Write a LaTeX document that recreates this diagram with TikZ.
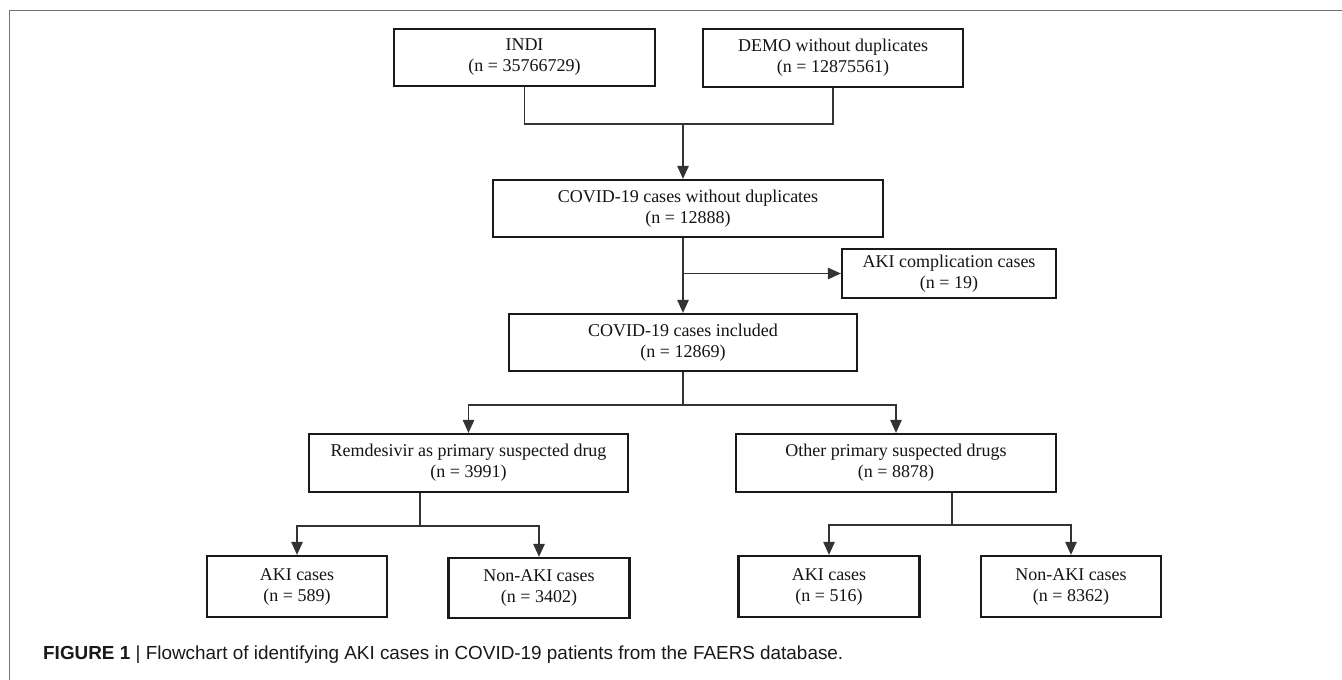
\documentclass[tikz,border=0pt]{standalone}
\usepackage{fontspec}
\setmainfont{Liberation Serif}
\newfontfamily\capfont{Liberation Sans}
\usetikzlibrary{arrows.meta,calc}
\begin{document}
\begin{tikzpicture}[x=1pt,y=-1pt,
  box/.style={draw=black!90, line width=2.3pt, rectangle, align=center, inner sep=0pt,
    font=\fontsize{18}{21}\selectfont, text=black!92},
  conn/.style={draw=black!80, line width=1.2pt},
  arr/.style={conn, -{Triangle[length=13pt,width=11.5pt]}}]
\useasboundingbox (0,0) rectangle (1342,680);
\fill[white] (0,0) rectangle (1342,680);
\draw[black!55, line width=1.6pt] (9.5,680) -- (9.5,10.5) -- (1342,10.5);

\node[box, minimum width=261, minimum height=57] (indi) at (524.5,57.5) {INDI\\(n = 35766729)};
\node[box, minimum width=260, minimum height=58] (demo) at (833,58) {DEMO without duplicates\\(n = 12875561)};
\node[box, minimum width=390, minimum height=57] (covid) at (688,208.5) {COVID-19 cases without duplicates\\(n = 12888)};
\node[box, minimum width=214, minimum height=49] (akic) at (949,273.5) {AKI complication cases\\(n = 19)};
\node[box, minimum width=348, minimum height=57] (incl) at (683,342.5) {COVID-19 cases included\\(n = 12869)};
\node[box, minimum width=319, minimum height=58] (rem) at (468.5,463) {Remdesivir as primary suspected drug\\(n = 3991)};
\node[box, minimum width=320, minimum height=58] (oth) at (896,463) {Other primary suspected drugs\\(n = 8878)};
\node[box, minimum width=180, minimum height=61] (aki1) at (297,586.5) {AKI cases\\(n = 589)};
\node[box, minimum width=181, minimum height=60] (non1) at (539,588) {Non-AKI cases\\(n = 3402)};
\node[box, minimum width=181, minimum height=61] (aki2) at (829,586.5) {AKI cases\\(n = 516)};
\node[box, minimum width=180, minimum height=61] (non2) at (1071,586.5) {Non-AKI cases\\(n = 8362)};

\coordinate (j1) at (683,124);
\coordinate (j2) at (683,405);
\coordinate (j3) at (420,526);
\coordinate (j4) at (952,525);

\draw[conn] (indi.south) -- (indi.south |- j1) -- (demo.south |- j1) -- (demo.south);
\draw[arr] (j1) -- (j1 |- covid.north);
\draw[arr] (covid.south -| j1) -- (j1 |- incl.north);
\draw[arr] (j1 |- akic.west) -- (akic.west);
\draw[conn] (incl.south) -- (j2);
\draw[arr] (j2) -| (rem.north);
\draw[arr] (j2) -| (oth.north);
\draw[conn] (rem.south -| j3) -- (j3);
\draw[arr] (j3) -| (aki1.north);
\draw[arr] (j3) -| (non1.north);
\draw[conn] (oth.south -| j4) -- (j4);
\draw[arr] (j4) -| (aki2.north);
\draw[arr] (j4) -| (non2.north);

\node[anchor=base west, inner sep=0pt, font=\capfont\fontsize{18.9}{22}\selectfont, text=black!90] (cap) at (43,659)
  {\textbf{FIGURE 1} | Flowchart of identifying AKI cases in COVID-19 patients from the FAERS database.};
\end{tikzpicture}
\end{document}
